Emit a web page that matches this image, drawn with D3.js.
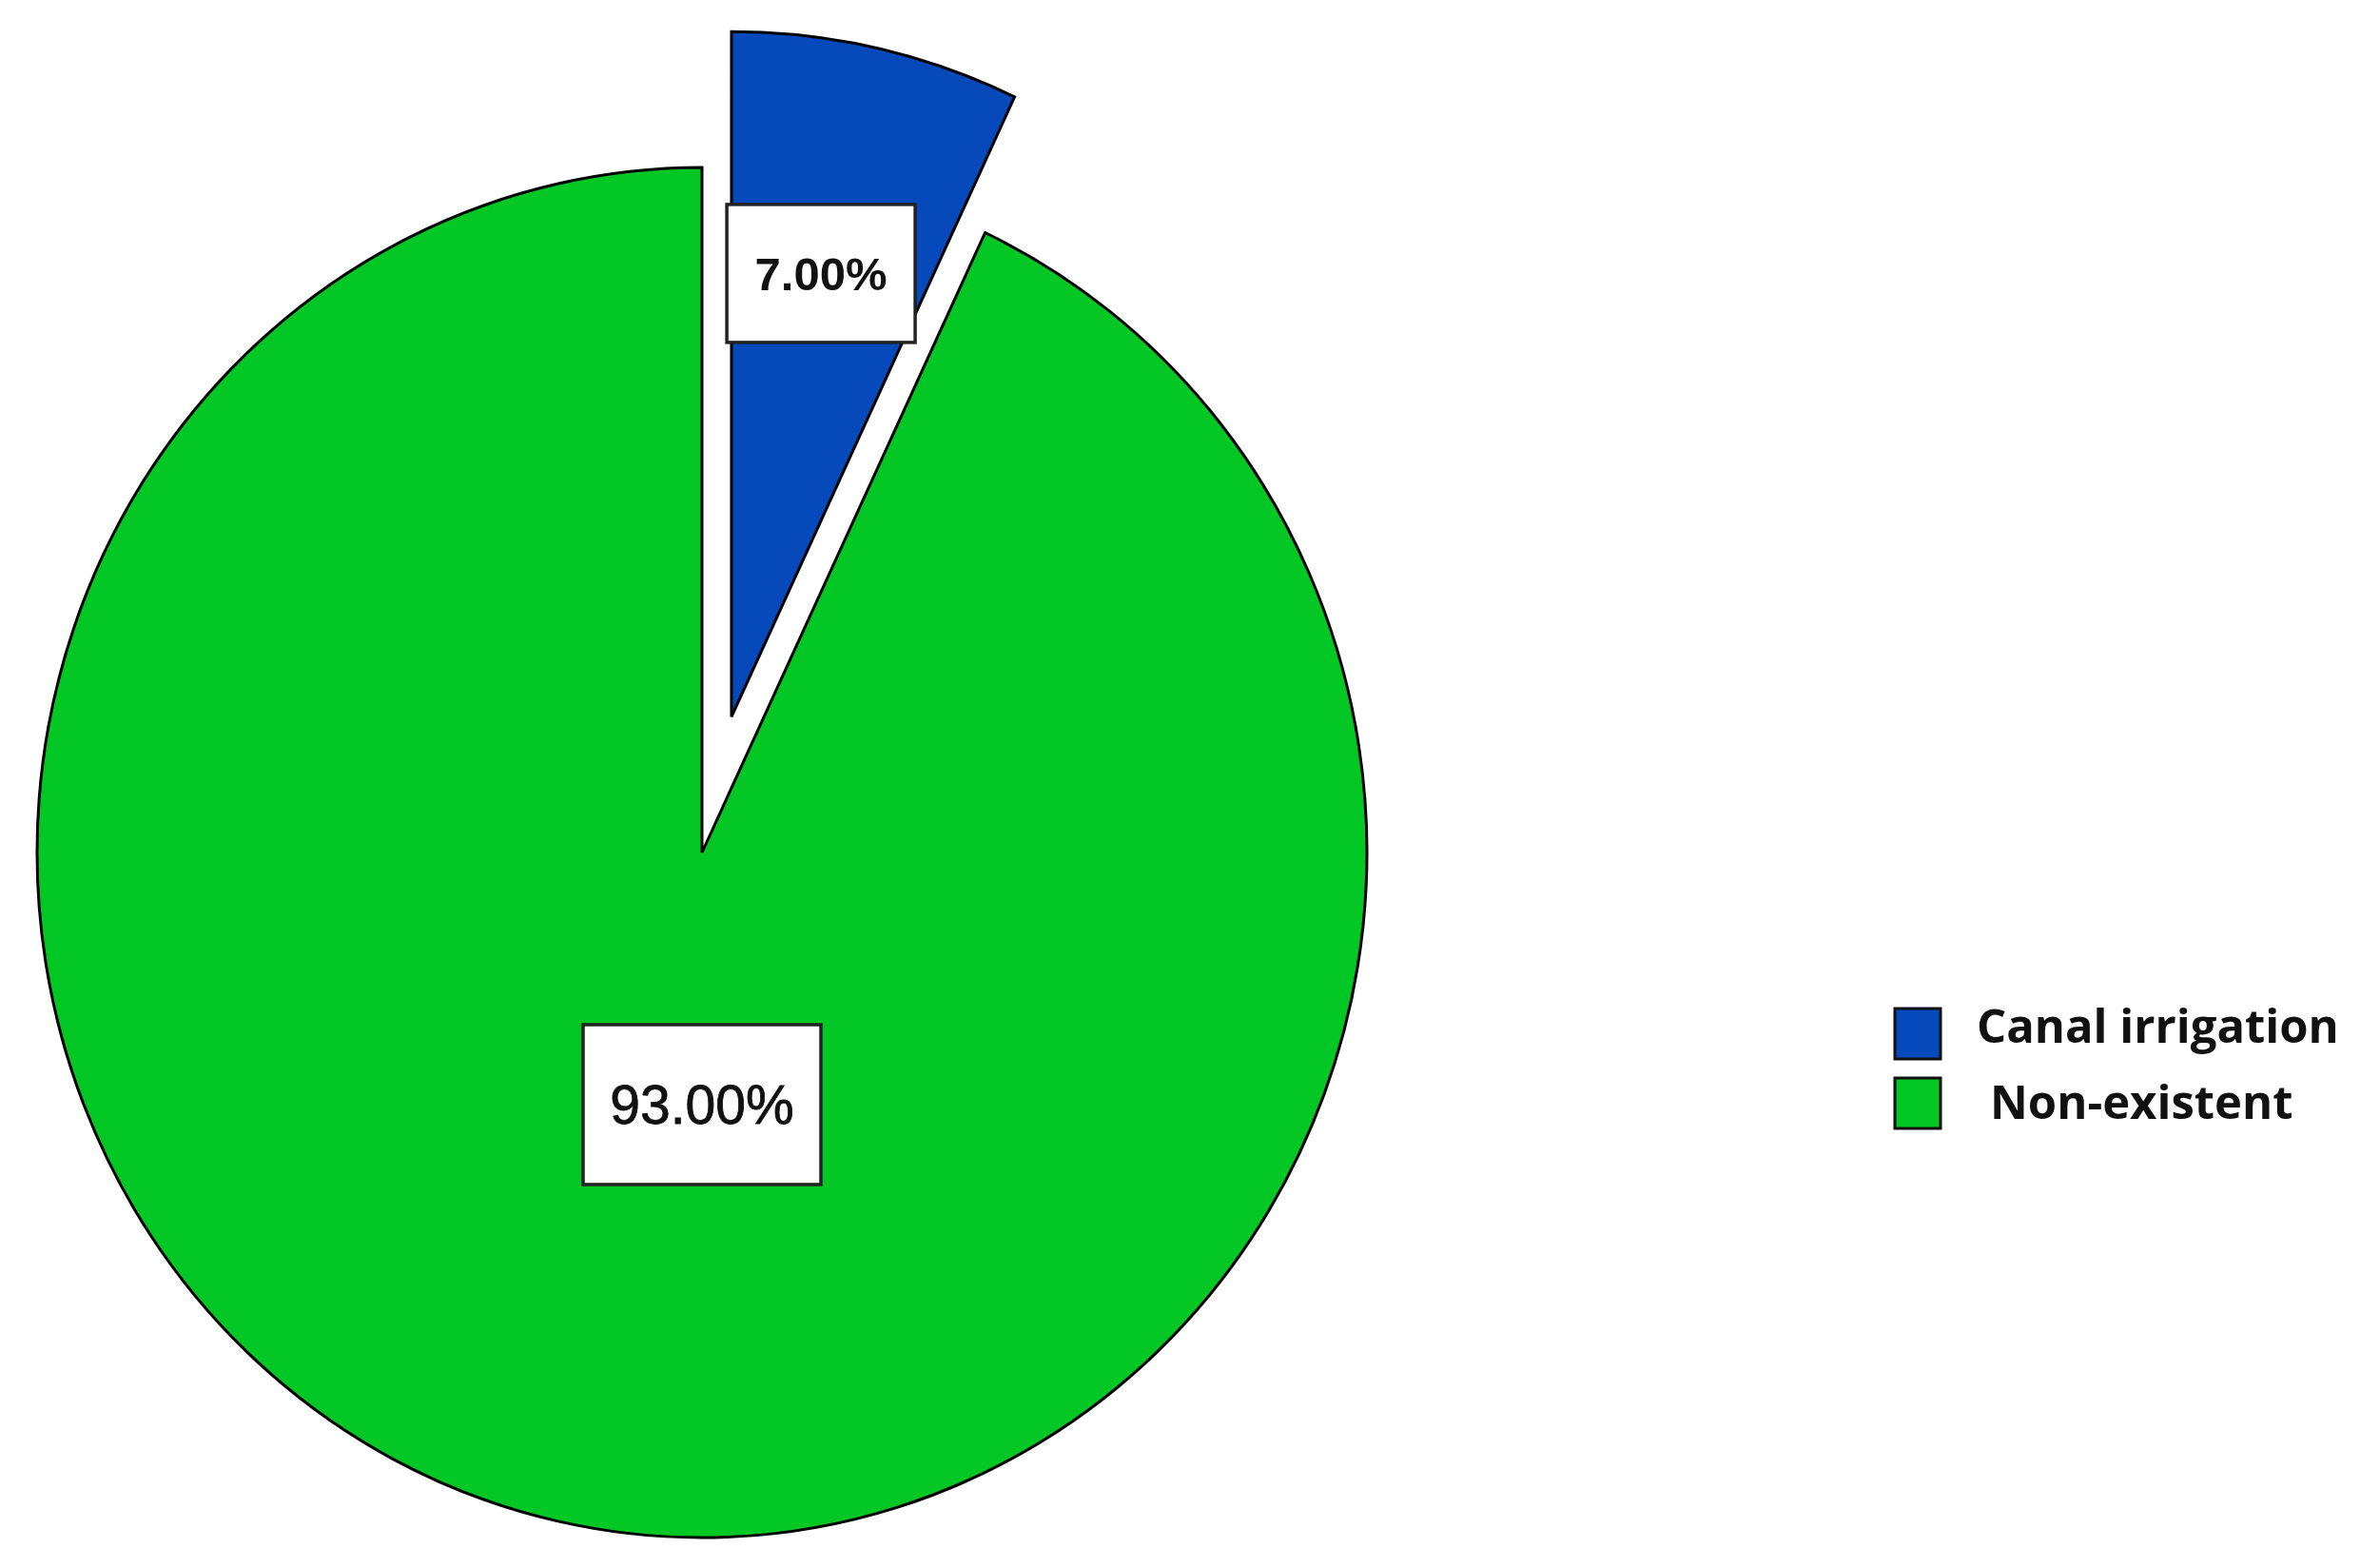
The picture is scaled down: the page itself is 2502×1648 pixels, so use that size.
<!DOCTYPE html>
<html>
<head>
<meta charset="utf-8">
<script src="https://cdn.jsdelivr.net/npm/d3@7"></script>
<style>
  html, body { margin: 0; padding: 0; background: #ffffff; }
  svg { display: block; }
</style>
</head>
<body>
<svg id="chart" width="2502" height="1648"></svg>
<script>
// ---- data ----
const categories = ["Canal irrigation", "Non-existent"];
const values = [7.0, 93.0];
const colors = ["#0549BA", "#02C724"];
const labels = ["7.00%", "93.00%"];
const exploded = [true, false];

// ---- layout ----
const W = 2502, H = 1648;
const cx = 738, cy = 896;
const r = 699;
const yStretch = 720 / 699;
const explode = 142;

const svg = d3.select("#chart");
svg.append("rect").attr("width", W).attr("height", H).attr("fill", "#fff");

const data = categories.map((c, i) => ({ name: c, value: values[i], color: colors[i], label: labels[i], exploded: exploded[i] }));

const pie = d3.pie().value(d => d.value).sort(null).startAngle(0).endAngle(2 * Math.PI);
const arcs = pie(data);
const arc = d3.arc().innerRadius(0).outerRadius(r);
const labelArc = d3.arc().innerRadius(r * 0.663).outerRadius(r * 0.663);

const color = d3.scaleOrdinal().domain(categories).range(colors);

const g = svg.append("g").attr("transform", `translate(${cx},${cy}) scale(1,${yStretch})`);

function offsetOf(a) {
  if (!a.data.exploded) return [0, 0];
  const mid = (a.startAngle + a.endAngle) / 2;
  return [Math.sin(mid) * explode, -Math.cos(mid) * explode];
}

g.selectAll("path.slice")
  .data(arcs)
  .join("path")
  .attr("class", "slice")
  .attr("transform", d => { const o = offsetOf(d); return `translate(${o[0]},${o[1]})`; })
  .attr("d", arc)
  .attr("fill", d => color(d.data.name))
  .attr("stroke", "#000")
  .attr("stroke-width", 3)
  .attr("stroke-linejoin", "miter")
  .attr("vector-effect", "non-scaling-stroke");

// ---- value labels ----
function labelPos(a) {
  const o = offsetOf(a);
  if (a.data.exploded) {
    const c = labelArc.centroid(a);
    return [cx + c[0] + o[0] - 7, cy + (c[1] + o[1]) * yStretch];
  }
  // large slice label: placed straight below the centre
  return [cx, cy + r * 0.368 * yStretch];
}

const lbl = svg.append("g");
arcs.forEach(a => {
  const p = labelPos(a);
  const big = !a.data.exploded;
  const bw = big ? 250 : 198;
  const bh = big ? 168 : 145;
  const gg = lbl.append("g").attr("transform", `translate(${p[0]},${p[1]})`);
  gg.append("rect")
    .attr("x", -bw / 2).attr("y", -bh / 2)
    .attr("width", bw).attr("height", bh)
    .attr("fill", "#fff").attr("stroke", "#222").attr("stroke-width", 3.5);
  gg.append("text")
    .attr("text-anchor", "middle")
    .attr("dy", "0.36em")
    .attr("font-family", "Liberation Sans, Arial, sans-serif")
    .attr("font-weight", big ? "normal" : "bold")
    .attr("font-size", big ? 57 : 49)
    .attr("stroke", "#111")
    .attr("stroke-width", big ? 0.8 : 0)
    .attr("fill", "#111")
    .text(a.data.label);
});

// ---- legend ----
const legend = svg.append("g").attr("transform", "translate(1992,1060)");
const items = legend.selectAll("g.item")
  .data(data)
  .join("g")
  .attr("class", "item")
  .attr("transform", (d, i) => `translate(0,${i * 73})`);
items.append("rect")
  .attr("x", 0).attr("y", 0).attr("width", 48).attr("height", 53)
  .attr("fill", d => color(d.name)).attr("stroke", "#111").attr("stroke-width", 3);
items.append("text")
  .attr("x", (d, i) => i === 0 ? 86 : 100)
  .attr("y", (d, i) => i === 0 ? 36 : 43)
  .attr("font-family", "Open Sans, Liberation Sans, sans-serif")
  .attr("font-weight", "bold")
  .attr("font-size", 49)
  .attr("fill", "#111")
  .text(d => d.name);
</script>
</body>
</html>
